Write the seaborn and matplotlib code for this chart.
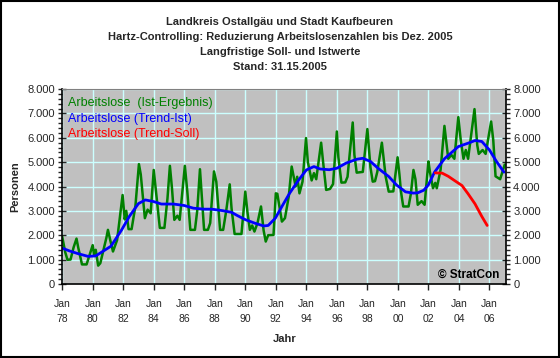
import numpy as np
import matplotlib
matplotlib.use("Agg")
import matplotlib.pyplot as plt
import seaborn as sns
from matplotlib.ticker import FuncFormatter, MultipleLocator
from matplotlib.patches import Rectangle

# Arbeitslose (Ist-Ergebnis) - Eckpunkte der Monatskurve (Jahr, Personen)
ist_jahr = [1978.00, 1978.20, 1978.35, 1978.55, 1978.75, 1978.94, 1979.05, 1979.30, 1979.60, 1979.80,
            1980.00, 1980.10, 1980.20, 1980.36, 1980.50, 1980.75, 1980.90, 1981.00, 1981.15, 1981.33,
            1981.60, 1981.96, 1982.10, 1982.20, 1982.35, 1982.55, 1982.80, 1983.03, 1983.15, 1983.42,
            1983.60, 1983.80, 1984.00, 1984.15, 1984.40, 1984.70, 1984.90, 1985.06, 1985.20, 1985.35,
            1985.55, 1985.70, 1986.04, 1986.20, 1986.40, 1986.70, 1986.85, 1987.03, 1987.15, 1987.30,
            1987.55, 1987.70, 1987.95, 1988.10, 1988.35, 1988.55, 1988.75, 1988.98, 1989.10, 1989.30,
            1989.75, 1990.00, 1990.15, 1990.30, 1990.45, 1990.60, 1990.80, 1991.03, 1991.20, 1991.34,
            1991.50, 1991.85, 1992.00, 1992.10, 1992.40, 1992.60, 1992.85, 1993.04, 1993.30, 1993.40,
            1993.55, 1993.75, 1993.98, 1994.10, 1994.35, 1994.50, 1994.65, 1994.97, 1995.10, 1995.30,
            1995.55, 1995.75, 1996.00, 1996.10, 1996.30, 1996.55, 1996.70, 1997.04, 1997.15, 1997.30,
            1997.70, 1998.00, 1998.20, 1998.35, 1998.50, 1998.65, 1998.95, 1999.20, 1999.40, 1999.70,
            1999.98, 2000.10, 2000.20, 2000.35, 2000.70, 2000.85, 2001.02, 2001.15, 2001.30, 2001.55,
            2001.75, 2002.00, 2002.10, 2002.30, 2002.45, 2002.55, 2002.80, 2003.05, 2003.20, 2003.30,
            2003.50, 2003.70, 2003.96, 2004.12, 2004.30, 2004.45, 2004.60, 2005.02, 2005.20, 2005.30,
            2005.55, 2005.75, 2006.11, 2006.25, 2006.40, 2006.70, 2007.00]
ist_wert = [1950, 1300, 990, 1000, 1500, 1860, 1500, 800, 800, 1200,
            1590, 1150, 1400, 750, 850, 1500, 1900, 2220, 1800, 1330,
            1800, 3650, 2650, 3000, 2250, 2250, 3200, 4920, 4500, 2700,
            3050, 2900, 4680, 3800, 2300, 2300, 3500, 4850, 3900, 2630,
            2800, 2630, 4850, 3800, 2220, 2220, 3000, 4710, 3600, 2220,
            2220, 2500, 4620, 4200, 2220, 2220, 3000, 4090, 3100, 2050,
            2050, 3790, 2900, 2220, 2400, 2150, 2500, 3180, 2200, 1740,
            2000, 2010, 3720, 3700, 2560, 2700, 3600, 4820, 4000, 4400,
            3720, 4200, 5990, 5000, 4250, 4550, 4300, 5800, 5000, 3860,
            3900, 4100, 6260, 5200, 4160, 4170, 4400, 6630, 5300, 4570,
            4600, 6360, 4800, 4200, 4220, 4600, 5800, 4400, 3790, 3800,
            5200, 4500, 3800, 3180, 3180, 3700, 4680, 4300, 3250, 3400,
            3250, 5030, 4600, 3930, 4150, 3930, 4700, 6490, 5700, 5140,
            5300, 5140, 6850, 5900, 5140, 5500, 5140, 7180, 5700, 5340,
            5500, 5340, 6670, 5900, 4420, 4300, 4900]

# Arbeitslose (Trend-Ist)
trend_jahr = [1978.0, 1978.5, 1979.0, 1979.7, 1980.2, 1980.7, 1981.2, 1981.9, 1982.4, 1983.0,
              1983.45, 1984.0, 1984.5, 1985.3, 1986.0, 1986.6, 1987.3, 1987.8, 1988.5, 1989.1,
              1989.5, 1990.0, 1990.6, 1991.2, 1991.5, 1991.97, 1992.4, 1992.9, 1993.5, 1994.0,
              1994.5, 1994.9, 1995.5, 1996.0, 1996.6, 1997.3, 1997.7, 1998.2, 1998.7, 1999.4,
              1999.9, 2000.5, 2001.0, 2001.3, 2001.7, 2002.0, 2002.4, 2003.05, 2003.96, 2004.6,
              2005.06, 2005.5, 2006.0, 2006.45, 2006.95]
trend_wert = [1470, 1350, 1250, 1130, 1150, 1350, 1550, 2220, 2770, 3300,
              3450, 3380, 3280, 3280, 3220, 3110, 3070, 3070, 3010, 2940,
              2800, 2640, 2500, 2380, 2400, 2700, 3180, 3720, 4270, 4680,
              4820, 4720, 4690, 4750, 4960, 5120, 5160, 5030, 4750, 4410,
              4070, 3780, 3730, 3740, 3850, 4070, 4590, 5140, 5640, 5780,
              5890, 5850, 5500, 5040, 4590]

# Arbeitslose (Trend-Soll)
soll_jahr = [2002.45, 2002.9, 2003.3, 2003.7, 2004.2, 2004.6, 2005.05, 2005.5, 2005.85]
soll_wert = [4560, 4550, 4420, 4250, 4040, 3700, 3290, 2770, 2400]

tick_jahre = list(range(1978, 2007, 2))
tick_labels = ["Jan\n%02d" % (j % 100) for j in tick_jahre]

titel = ("Landkreis Ostallgäu und Stadt Kaufbeuren\n"
         "Hartz-Controlling: Reduzierung Arbeitslosenzahlen bis Dez. 2005\n"
         "Langfristige Soll- und Istwerte\n"
         "Stand: 31.15.2005")

sns.set_style("white")
plt.rcParams['font.family'] = ['Liberation Sans', 'DejaVu Sans']

fig = plt.figure(figsize=(5.6, 3.58), dpi=100)
fig.patch.set_facecolor("white")
ax = fig.add_axes([0.111, 0.207, 0.793, 0.544])
ax.set_facecolor("#c0c0c0")

sns.lineplot(x=ist_jahr, y=ist_wert, ax=ax, color="#008000", lw=1.8,
             label="Arbeitslose  (Ist-Ergebnis)", estimator=None)
sns.lineplot(x=trend_jahr, y=trend_wert, ax=ax, color="#0000ff", lw=2.0,
             label="Arbeitslose (Trend-Ist)", estimator=None)
sns.lineplot(x=soll_jahr, y=soll_wert, ax=ax, color="#ff0000", lw=2.0,
             label="Arbeitslose (Trend-Soll)", estimator=None)

ax.set_xlim(1978, 2007.1)
ax.set_ylim(0, 8000)
ax.set_xticks(tick_jahre)
ax.set_xticklabels(tick_labels, fontsize=7.5, linespacing=1.6)
ax.yaxis.set_major_locator(MultipleLocator(1000))
ax.yaxis.set_minor_locator(MultipleLocator(200))
ax.yaxis.set_major_formatter(FuncFormatter(lambda v, p: f"{v:,.0f}".replace(",", ".")))
ax.grid(True, which="major", color="#ccffff", lw=1.0)
ax.set_axisbelow(True)

ax.tick_params(axis="y", which="major", direction="inout", length=6, width=1,
               left=True, right=True, labelleft=True, labelright=True, labelsize=8, pad=2)
ax.tick_params(axis="y", which="minor", direction="out", length=3, width=1, left=True, right=True)
ax.tick_params(axis="x", which="major", direction="out", length=4, width=1, bottom=True, pad=7)

for s in ["left", "right", "bottom"]:
    ax.spines[s].set_color("black")
    ax.spines[s].set_linewidth(1.2)
ax.spines["top"].set_color("#808080")

ax.set_xlabel("Jahr", fontsize=8, fontweight="bold", labelpad=7)
ax.set_ylabel("Personen", fontsize=8, fontweight="bold", labelpad=5)

leg = ax.legend(loc="upper left", bbox_to_anchor=(-0.005, 1.0), frameon=False, fontsize=9,
                handlelength=0, handletextpad=0, labelspacing=0.28, borderaxespad=0.25,
                labelcolor="linecolor")
for h in leg.legend_handles:
    h.set_visible(False)

ax.text(0.985, 0.015, "© StratCon", transform=ax.transAxes, ha="right", va="bottom",
        fontsize=8.5, fontweight="bold", color="black")

fig.text(0.5, 0.952, titel, ha="center", va="top", fontsize=8, fontweight="bold",
         linespacing=1.62)

fig.patches.append(Rectangle((0.001, 0.002), 0.997, 0.996, transform=fig.transFigure,
                             fill=False, edgecolor="black", lw=1.5))

fig.savefig("out.png", dpi=100)
